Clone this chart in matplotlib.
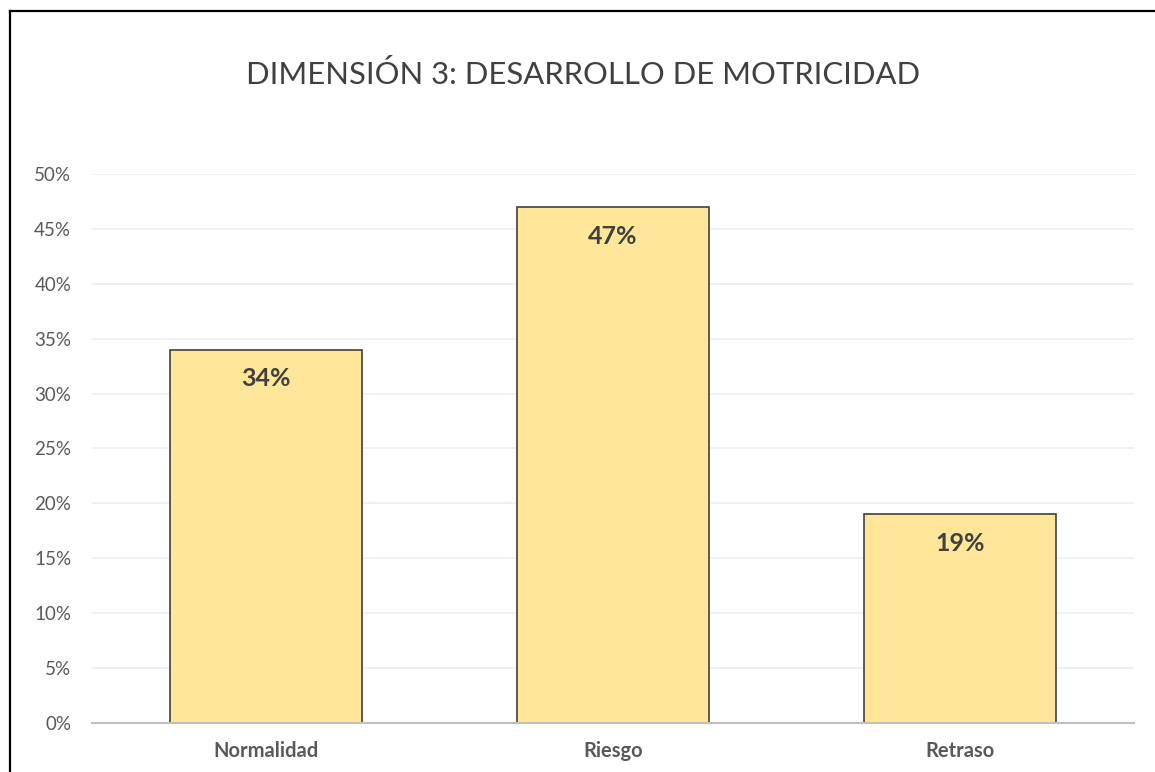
import matplotlib
matplotlib.use("Agg")
import matplotlib.pyplot as plt
from matplotlib.lines import Line2D
from matplotlib.ticker import MultipleLocator, FuncFormatter

categories = ["Normalidad", "Riesgo", "Retraso"]
values = [0.34, 0.47, 0.19]
labels = ["34%", "47%", "19%"]
title = "DIMENSIÓN 3: DESARROLLO DE MOTRICIDAD"

plt.rcParams['font.family'] = ['Lato', 'DejaVu Sans']

W, H = 1155, 772
fig = plt.figure(figsize=(W / 100, H / 100), dpi=100)
ax = fig.add_axes([92 / W, 1 - 723 / H, (1134 - 92) / W, (723 - 174) / H])

x = list(range(len(categories)))
bars = ax.bar(x, values, width=0.553, color="#FFE699", edgecolor="#404040", linewidth=1.2, zorder=3)
for b, lab in zip(bars, labels):
    ax.annotate(lab, (b.get_x() + b.get_width() / 2, b.get_height()), xytext=(0, -21),
                textcoords="offset points", ha="center", va="center",
                fontsize=18, fontweight="bold", color="#404040", zorder=4)

ax.set_xlim(-0.5, len(categories) - 0.5)
ax.set_ylim(0, 0.5)
ax.yaxis.set_major_locator(MultipleLocator(0.05))
ax.yaxis.set_major_formatter(FuncFormatter(lambda v, p: f"{v*100:.0f}%"))
ax.set_xticks(x)
ax.set_xticklabels(categories, fontsize=14.5, fontweight="bold", color="#595959")
ax.tick_params(axis="y", labelsize=13.5, labelcolor="#595959", length=0, pad=15)
ax.tick_params(axis="x", length=0, pad=13)
ax.grid(axis="y", color="#EDEDED", linewidth=1.2, zorder=0)
for s in ["top", "right", "left"]:
    ax.spines[s].set_visible(False)
ax.spines["bottom"].set_color("#BFBFBF")
ax.spines["bottom"].set_linewidth(1.5)
ax.spines["bottom"].set_zorder(5)

fig.text(583 / W, 1 - 75 / H, title, ha="center", va="center", fontsize=22.3, color="#404040")

# chart border (left and top visible)
fig.add_artist(Line2D([9.5 / W, 9.5 / W], [0, 1 - 10.5 / H], transform=fig.transFigure, color="black", linewidth=1.6))
fig.add_artist(Line2D([9.5 / W, 1.0], [1 - 10.5 / H, 1 - 10.5 / H], transform=fig.transFigure, color="black", linewidth=1.6))

fig.savefig("out.png", dpi=100, facecolor="white")
